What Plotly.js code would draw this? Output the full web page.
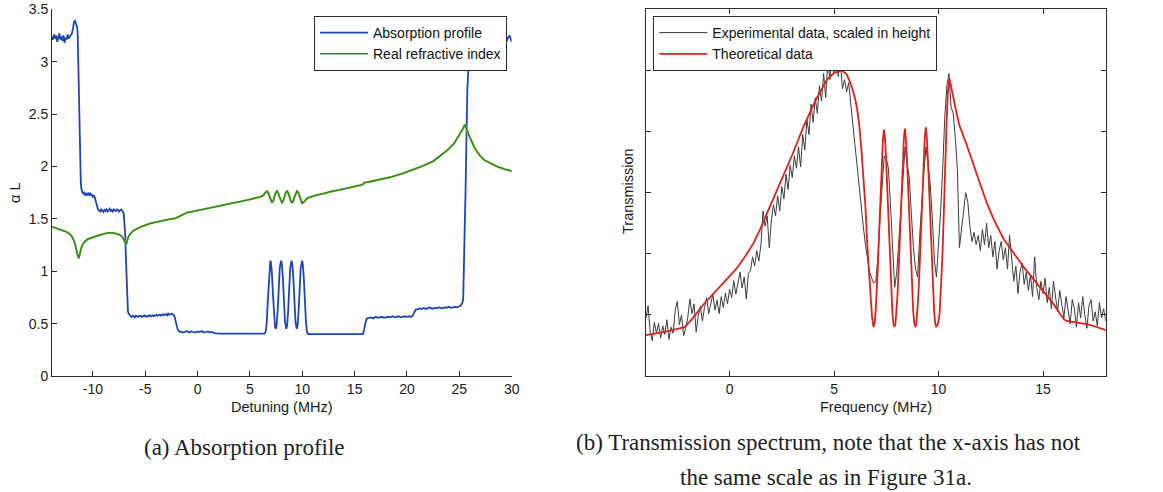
<!DOCTYPE html>
<html><head><meta charset="utf-8">
<script src="https://cdn.plot.ly/plotly-3.0.1.min.js"></script>
<style>html,body{margin:0;padding:0;background:#fff;} #chart{width:1163px;height:492px;}</style>
</head><body><div id="chart"></div>
<script>
// ---------- (a) Absorption profile ----------
const absX = [
 -13.9,-13.8,-13.7,-13.6,-13.5,-13.4,-13.3,-13.2,-13.1,-13.0,-12.9,-12.8,-12.7,-12.6,-12.5,-12.4,-12.3,-12.2,-12.1,
 -12.0,-11.9,-11.8,-11.7,-11.6,-11.5,-11.45,-11.4,-11.35,-11.3,-11.25,-11.2,-11.15,-11.1,-11.0,
 -10.9,-10.8,-10.7,-10.6,-10.5,-10.4,-10.3,-10.2,-10.1,-10.0,-9.9,-9.8,-9.7,-9.6,-9.5,-9.4,
 -9.3,-9.2,-9.1,-9.0,-8.9,-8.8,-8.7,-8.6,-8.5,-8.4,-8.3,-8.2,-8.1,-8.0,-7.9,-7.8,-7.7,-7.6,-7.5,-7.4,-7.3,-7.2,
 -7.15,-7.1,-7.05,-7.0,-6.95,-6.9,-6.85,-6.8,-6.75,-6.7,-6.65,-6.6,-6.5,
 -6.4,-6.3,-6.2,-6.1,-6.0,-5.9,-5.8,-5.7,-5.6,-5.5,
 -5.4,-5.3,-5.2,-5.1,-5.0,-4.9,-4.8,-4.7,-4.6,-4.5,
 -4.4,-4.3,-4.2,-4.1,-4.0,-3.9,-3.8,-3.7,-3.6,-3.5,
 -3.4,-3.3,-3.2,-3.1,-3.0,-2.9,-2.8,-2.7,-2.6,-2.5,
 -2.4,-2.3,-2.2,-2.1,-2.0,-1.9,-1.8,-1.7,
 -1.6,-1.4,-1.2,-1.0,-0.8,-0.6,-0.4,-0.2,0,0.2,0.4,0.6,0.8,1.0,1.2,1.4,
 1.6,2.0,3.0,4.0,5.0,6.0,6.4,
 6.5,6.6,6.7,6.8,6.9,6.95,7.0,7.1,7.2,7.3,7.4,7.47,7.55,7.65,7.75,7.85,7.97,
 8.05,8.15,8.25,8.35,8.47,8.55,8.65,8.75,8.85,8.97,
 9.05,9.15,9.25,9.35,9.47,9.55,9.65,9.75,9.85,9.98,
 10.05,10.15,10.25,10.35,10.45,10.55,12.0,14.0,15.8,15.9,16.0,16.1,16.2,
 16.4,16.6,16.8,17.0,17.2,17.4,17.6,17.8,18.0,18.2,18.4,18.6,18.8,19.0,19.2,19.4,19.6,19.8,20.0,20.2,20.4,
 20.55,20.65,20.75,20.85,
 21.0,21.2,21.4,21.6,21.8,22.0,22.2,22.4,22.6,22.8,23.0,23.2,23.4,23.6,23.8,24.0,24.2,24.4,24.6,24.8,25.0,
 25.1,25.2,25.3,25.37,25.42,25.47,25.52,25.58,25.64,25.7,25.76,25.85,26.0,26.2,26.5,
 27.0,27.2,27.4,27.6,27.8,28.0,28.2,28.4,28.6,28.8,29.0,29.2,29.4,29.6,29.8,30.0
];
const absY = [
 3.24,3.21,3.26,3.22,3.25,3.19,3.23,3.27,3.21,3.24,3.20,3.25,3.18,3.23,3.21,3.26,3.22,3.24,3.25,
 3.27,3.31,3.38,3.39,3.36,3.33,3.27,3.00,2.66,2.40,2.15,1.95,1.85,1.79,1.75,
 1.74,1.75,1.72,1.74,1.73,1.75,1.72,1.74,1.73,1.71,1.72,1.70,1.66,1.62,1.59,1.58,
 1.57,1.59,1.58,1.565,1.585,1.575,1.59,1.57,1.58,1.595,1.575,1.585,1.57,1.59,1.58,1.575,1.59,1.585,1.57,1.58,1.59,1.58,
 1.57,1.56,1.55,1.48,1.42,1.33,1.15,0.95,0.79,0.68,0.62,0.60,0.58,
 0.57,0.565,0.575,0.57,0.56,0.575,0.57,0.565,0.575,0.57,
 0.575,0.565,0.57,0.58,0.57,0.575,0.565,0.575,0.58,0.57,
 0.575,0.58,0.57,0.58,0.575,0.585,0.575,0.58,0.585,0.575,
 0.58,0.59,0.58,0.585,0.59,0.58,0.595,0.585,0.59,0.595,
 0.59,0.585,0.57,0.53,0.48,0.445,0.43,0.42,
 0.425,0.415,0.42,0.43,0.415,0.425,0.42,0.415,0.425,0.42,0.43,0.415,0.42,0.425,0.415,0.42,
 0.41,0.405,0.405,0.405,0.405,0.405,0.405,
 0.42,0.50,0.70,0.92,1.07,1.10,1.09,0.98,0.78,0.58,0.47,0.45,0.48,0.62,0.85,1.03,1.10,
 1.07,0.93,0.70,0.52,0.45,0.48,0.62,0.85,1.03,1.10,
 1.07,0.93,0.70,0.52,0.45,0.48,0.62,0.85,1.03,1.10,
 1.07,0.93,0.70,0.52,0.42,0.40,0.40,0.40,0.40,0.44,0.50,0.535,0.55,
 0.555,0.56,0.55,0.565,0.555,0.56,0.565,0.555,0.56,0.565,0.56,0.57,0.56,0.565,0.57,0.56,0.565,0.57,0.565,0.57,0.565,
 0.575,0.60,0.625,0.635,
 0.635,0.645,0.64,0.65,0.64,0.645,0.655,0.64,0.65,0.645,0.655,0.65,0.645,0.655,0.65,0.66,0.65,0.655,0.66,0.655,0.665,
 0.67,0.685,0.70,0.74,0.90,1.15,1.45,1.70,2.10,2.45,2.72,2.90,3.04,3.13,3.18,
 3.21,3.18,3.23,3.20,3.17,3.22,3.19,3.24,3.20,3.18,3.23,3.21,3.17,3.22,3.25,3.19
];
const idxX = [
 -13.9,-13.5,-13.0,-12.5,-12.2,-12.0,-11.8,-11.7,-11.6,-11.5,-11.4,-11.35,-11.3,-11.2,-11.1,-11.0,-10.8,-10.5,-10.0,-9.5,-9.0,-8.5,-8.0,-7.5,-7.2,-7.0,-6.9,-6.82,-6.75,-6.6,-6.4,-6.1,-5.5,-5.0,-4.5,-4.0,-3.5,-3.0,-2.5,-2.1,-1.9,-1.7,-1.0,0.0,1.0,2.0,3.0,4.0,5.0,6.0,
 6.30,6.42,6.52,6.62,6.74,6.86,6.98,7.10,7.22,7.34,7.46,7.58,7.70,7.82,7.94,8.06,8.18,8.30,8.42,8.54,8.66,8.78,8.90,9.02,9.14,9.26,9.38,9.50,9.62,9.74,9.86,9.98,10.10,10.25,10.45,10.7,
 11.0,11.5,12.0,12.7,13.5,14.5,15.5,15.8,15.9,16.5,17.5,18.5,19.5,20.5,21.5,22.5,23.2,23.8,24.5,25.1,25.35,25.53,25.65,25.8,26.0,26.2,26.4,26.7,27.0,27.4,28.0,28.6,29.3,30.0
];
const idxY = [
 1.425,1.41,1.395,1.375,1.355,1.33,1.29,1.26,1.22,1.17,1.13,1.125,1.14,1.19,1.225,1.25,1.28,1.305,1.325,1.34,1.355,1.367,1.365,1.35,1.33,1.30,1.275,1.255,1.28,1.33,1.36,1.39,1.42,1.44,1.457,1.468,1.48,1.493,1.50,1.505,1.515,1.53,1.56,1.58,1.60,1.62,1.64,1.66,1.685,1.71,
 1.725,1.745,1.76,1.765,1.75,1.71,1.67,1.655,1.67,1.71,1.75,1.765,1.75,1.71,1.67,1.655,1.67,1.71,1.75,1.765,1.75,1.71,1.67,1.655,1.67,1.71,1.75,1.765,1.75,1.71,1.67,1.65,1.655,1.675,1.695,1.705,
 1.715,1.73,1.74,1.76,1.775,1.795,1.82,1.83,1.845,1.855,1.875,1.90,1.93,1.965,2.005,2.05,2.105,2.15,2.22,2.31,2.36,2.40,2.36,2.33,2.28,2.23,2.19,2.14,2.10,2.06,2.03,2.00,1.975,1.955
];
const detTickVals = [-10,-5,0,5,10,15,20,25,30];
const detTickText = ['-10','-5','0','5','10','15','20','25','30'];

// ---------- (b) Transmission spectrum ----------
const expStart = -4.0, expStep = 0.1;   // frequency grid of the measurement (MHz)
const expY = [
 0.95,1.15,0.72,0.58,0.88,0.70,0.86,0.62,0.82,0.68,
 0.92,0.60,0.80,0.70,1.08,1.22,0.84,1.00,0.66,0.78,
 0.96,1.26,1.02,1.18,0.72,0.98,1.14,0.90,1.12,1.28,
 1.02,1.20,1.34,1.08,1.24,1.02,1.30,1.12,1.36,1.18,
 1.42,1.28,1.56,1.34,1.52,1.70,1.44,1.62,1.26,1.68,
 1.72,1.95,1.80,2.05,1.88,2.15,2.70,2.45,2.62,2.10,
 2.55,2.80,2.62,2.95,2.70,3.10,2.90,3.30,3.05,3.45,
 3.25,3.60,3.40,3.75,3.42,3.95,3.70,4.20,3.95,4.45,
 4.15,4.55,4.30,4.75,4.50,4.95,4.55,5.15,4.85,5.30,
 4.95,5.35,4.90,5.15,4.70,4.85,4.65,4.80,4.45,4.10,
 3.75,3.50,3.10,2.80,2.45,2.15,1.90,1.70,1.60,1.52,
 1.55,1.95,2.60,3.20,3.60,3.55,3.40,2.80,2.05,1.45,
 1.70,2.20,2.85,3.35,3.75,3.45,3.25,2.65,2.10,1.75,
 1.62,2.30,2.90,3.35,3.75,3.40,3.15,2.60,1.90,1.62,
 2.10,2.70,3.40,4.25,4.75,4.95,4.40,4.30,3.90,3.40,
 2.10,2.40,2.75,3.00,2.85,2.45,2.20,2.35,2.15,2.30,
 2.05,2.40,2.15,2.50,2.10,2.30,1.95,2.20,1.75,2.05,
 2.20,1.90,2.10,1.75,2.30,1.85,1.55,1.80,1.35,1.70,
 1.85,1.50,1.70,1.40,1.65,1.30,1.95,1.45,1.25,1.55,
 1.35,1.60,1.20,1.45,1.10,1.55,1.30,1.05,1.40,1.15,
 0.95,1.30,1.05,0.85,1.25,1.10,0.80,1.20,0.95,1.30,
 1.00,0.78,1.15,1.25,0.90,1.05,0.82,1.20,0.95,1.10,
 0.90
];
const thX = [
 -4.0,-3.0,-2.15,-1.8,-1.25,-0.5,0.0,0.34,0.75,1.14,1.46,1.9,2.42,3.0,3.54,4.1,4.66,5.0,5.37,5.6,5.8,6.0,6.1,6.2,6.3,6.4,6.5,6.6,6.7,6.76,6.82,6.89,
 6.94,6.99,7.04,7.09,7.14,7.19,7.24,7.29,7.34,7.39,7.44,7.49,7.54,7.59,7.64,7.69,7.74,7.79,7.84,7.89,
 7.94,7.99,8.04,8.09,8.14,8.19,8.24,8.29,8.34,8.39,8.44,8.49,8.54,8.59,8.64,8.69,8.74,8.79,8.84,8.89,
 8.94,8.99,9.04,9.09,9.14,9.19,9.24,9.29,9.34,9.39,9.44,9.49,9.54,9.59,9.64,9.69,9.74,9.79,9.84,9.89,
 9.95,10.0,10.05,10.1,10.15,10.2,10.25,10.3,10.35,10.4,10.45,10.52,10.6,10.7,10.85,11.0,11.35,11.83,12.3,12.62,13.1,14.06,15.0,15.5,15.81,16.0,16.13,17.09,17.5,18.0
];
const thY = [
 0.67,0.73,0.80,0.93,1.17,1.45,1.62,1.76,1.96,2.17,2.40,2.75,3.15,3.62,4.08,4.50,4.85,4.96,5.00,4.94,4.78,4.55,4.38,4.12,3.75,3.28,2.78,2.08,1.48,1.18,0.95,0.80,
 0.86,1.05,1.35,1.75,2.20,2.70,3.15,3.55,3.88,4.03,3.88,3.55,3.15,2.70,2.20,1.75,1.35,1.05,0.86,0.80,
 0.86,1.05,1.35,1.75,2.20,2.70,3.15,3.55,3.88,4.05,3.88,3.55,3.15,2.70,2.20,1.75,1.35,1.05,0.86,0.80,
 0.86,1.05,1.35,1.75,2.20,2.70,3.15,3.55,3.90,4.07,3.90,3.55,3.15,2.70,2.20,1.75,1.35,1.05,0.86,0.80,
 0.84,0.90,1.02,1.30,1.70,2.10,2.75,3.35,3.90,4.30,4.65,4.87,4.74,4.55,4.32,4.10,3.78,3.30,2.84,2.58,2.25,1.79,1.40,1.18,1.02,0.93,0.90,0.85,0.81,0.75
];
const freqTickVals = [0,5,10,15];
const transTickVals = [1,2,3,4,5];

const W = 1163, H = 492;
const px = v => v / W, py = v => 1 - v / H;
const sans = 'Liberation Sans, Arial, Helvetica, sans-serif';
const serif = 'Liberation Serif, Times New Roman, serif';
const axCol = '#2a2a2a';
const txtCol = '#1a1a1a';

const traces = [
  {x: absX, y: absY, type: 'scatter', mode: 'lines', name: 'Absorption profile',
   line: {color: '#1d47b0', width: 1.8}, xaxis: 'x', yaxis: 'y', legend: 'legend'},
  {x: idxX, y: idxY, type: 'scatter', mode: 'lines', name: 'halo', showlegend: false,
   line: {color: '#c9cf3a', width: 2.2}, xaxis: 'x', yaxis: 'y', hoverinfo: 'skip'},
  {x: idxX, y: idxY, type: 'scatter', mode: 'lines', name: 'Real refractive index',
   line: {color: '#2a8a30', width: 1.6}, xaxis: 'x', yaxis: 'y', legend: 'legend'},
  {x0: expStart, dx: expStep, y: expY, type: 'scatter', mode: 'lines', name: 'Experimental data, scaled in height',
   line: {color: '#3a3d3c', width: 1}, xaxis: 'x2', yaxis: 'y2', legend: 'legend2'},
  {x: thX, y: thY, type: 'scatter', mode: 'lines', name: 'Theoretical data',
   line: {color: '#d9231c', width: 1.8}, xaxis: 'x2', yaxis: 'y2', legend: 'legend2'}
];

const axBase = {
  showgrid: false, zeroline: false, showline: true, linecolor: axCol, linewidth: 1,
  ticks: 'inside', ticklen: 5, tickcolor: axCol, tickwidth: 1,
  tickfont: {family: sans, size: 14, color: txtCol}
};

const titleFont = {family: sans, size: 14.5, color: txtCol};
const capFont = {family: serif, size: 23, color: '#1e1e1e'};
function note(text, x, y, font, angle) {
  return {text: text, x: px(x), y: py(y), xref: 'paper', yref: 'paper', xanchor: 'center', yanchor: 'middle',
          showarrow: false, font: font, textangle: angle || 0};
}

const layout = {
  width: W, height: H, paper_bgcolor: '#fff', plot_bgcolor: 'rgba(0,0,0,0)',
  margin: {l: 0, r: 0, t: 0, b: 0}, showlegend: true,
  xaxis: Object.assign({}, axBase, {domain: [px(52), px(511.7)], range: [-13.9, 30], anchor: 'y',
    tickmode: 'array', tickvals: detTickVals, ticktext: detTickText, mirror: false}),
  yaxis: Object.assign({}, axBase, {domain: [py(376), py(9.3)], range: [0, 3.5], anchor: 'x',
    dtick: 0.5, tick0: 0, mirror: false}),
  xaxis2: Object.assign({}, axBase, {domain: [px(646), px(1105.7)], range: [-4, 18], anchor: 'y2',
    tickmode: 'array', tickvals: freqTickVals, mirror: 'ticks'}),
  yaxis2: Object.assign({}, axBase, {domain: [py(376), py(9.3)], range: [0, 6], anchor: 'x2',
    tickmode: 'array', tickvals: transTickVals, showticklabels: false, mirror: 'ticks'}),
  legend: {x: px(507), xanchor: 'right', y: py(16), yanchor: 'top', bgcolor: '#fff',
    bordercolor: axCol, borderwidth: 1, font: {family: sans, size: 14, color: '#111'},
    tracegroupgap: 0, itemwidth: 48},
  legend2: {x: px(653.3), xanchor: 'left', y: py(16), yanchor: 'top', bgcolor: '#fff',
    bordercolor: axCol, borderwidth: 1, font: {family: sans, size: 14, color: '#111'},
    tracegroupgap: 0, itemwidth: 48},
  annotations: [
    note('Detuning (MHz)', 282, 407, titleFont),
    note('α L', 15, 193, titleFont, -90),
    note('Frequency (MHz)', 876, 407, titleFont),
    note('Transmission', 628, 191, titleFont, -90),
    note('(a) Absorption profile', 244, 447, capFont),
    note('(b) Transmission spectrum, note that the x-axis has not', 828, 442, capFont),
    note('the same scale as in Figure 31a.', 826, 477, capFont)
  ]
};

Plotly.newPlot('chart', traces, layout, {displayModeBar: false, staticPlot: true});
</script></body></html>
